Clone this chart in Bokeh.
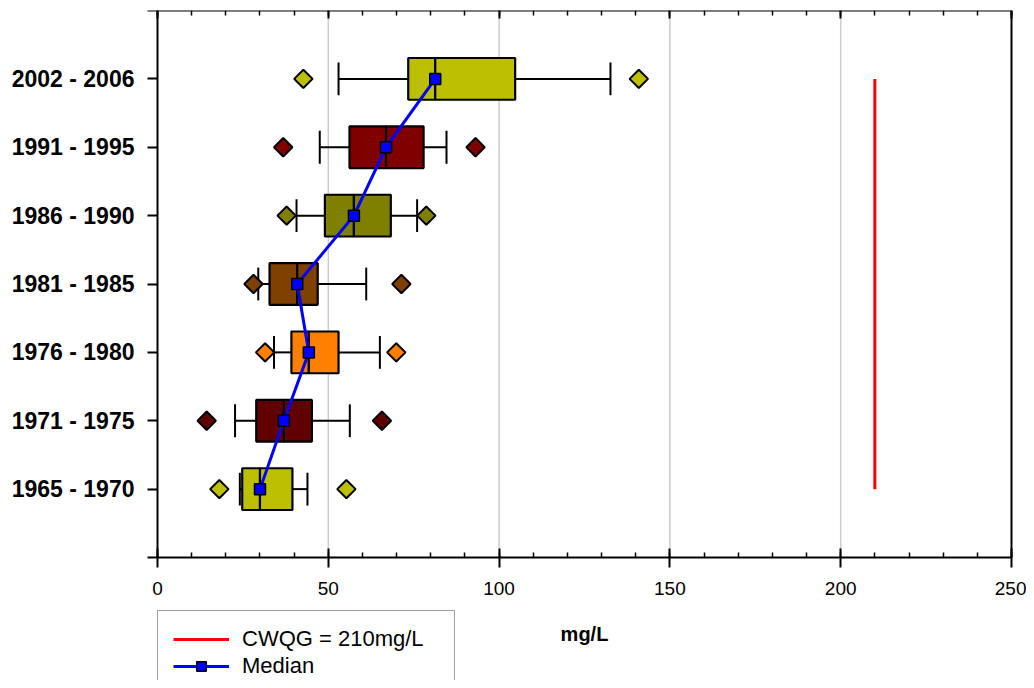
from bokeh.plotting import figure
from bokeh.models import (LinearAxis, FixedTicker, SingleIntervalTicker, Range1d,
                          Legend, LegendItem, ColumnDataSource)
from bokeh.embed import file_html
from bokeh.resources import INLINE
import math

categories = ["1965 - 1970", "1971 - 1975", "1976 - 1980", "1981 - 1985",
              "1986 - 1990", "1991 - 1995", "2002 - 2006"]
outlier_low = [18.1, 14.4, 31.5, 28.1, 37.8, 36.8, 42.7]
whisker_low = [24.1, 22.7, 34.1, 29.5, 40.7, 47.5, 53.0]
q1 = [24.8, 28.9, 39.2, 32.8, 49.0, 56.2, 73.4]
median = [30.0, 37.0, 44.3, 40.9, 57.5, 66.9, 81.3]
q3 = [39.5, 45.2, 53.0, 46.9, 68.3, 77.9, 104.7]
whisker_high = [43.9, 56.3, 65.1, 61.1, 76.0, 84.6, 132.6]
outlier_high = [55.3, 65.7, 69.9, 71.4, 78.7, 93.1, 140.9]
colors = ["#bcc000", "#600000", "#ff8000", "#804000", "#808000", "#800000", "#bcc000"]
cwqg = 210
x_tick_step = 50
x_max = 250

FONT = "Liberation Sans"
n = len(categories)
ypos = list(range(1, n + 1))
y_top = n + 1

# layout (pixels): the drawing area covers the whole canvas; axes are pinned
W, H = 1026, 680
left_px, plot_w_px = 157, 854       # x = 0 and width of the 0..250 box
top_px, plot_h_px = 10, 547         # y = top and height of the 0..8 box
ux = x_max / plot_w_px
uy = y_top / plot_h_px
x_start = -left_px * ux
x_end = x_max + (W - left_px - plot_w_px) * ux
y_start = -(H - top_px - plot_h_px) * uy

cap = 0.24
box_h = 0.61
grid_x = list(range(x_tick_step, x_max, x_tick_step))

src = ColumnDataSource(dict(
    y=ypos, cat=categories, olo=outlier_low, wlo=whisker_low, q1=q1, med=median,
    q3=q3, whi=whisker_high, ohi=outlier_high, color=colors,
    cap_lo=[v - cap for v in ypos], cap_hi=[v + cap for v in ypos],
))

p = figure(width=W, height=H, output_backend="svg", toolbar_location=None,
           x_range=Range1d(x_start, x_end), y_range=Range1d(y_start, y_top),
           min_border_left=0, min_border_right=0, min_border_top=top_px,
           min_border_bottom=0)
p.background_fill_color = "white"
p.border_fill_color = "white"
p.outline_line_color = None
p.xgrid.visible = False
p.ygrid.visible = False

# vertical grid lines, only inside the plotting box
p.segment(x0=grid_x, x1=grid_x, y0=0, y1=y_top, line_color="#cccccc",
          line_width=1.5, level="underlay")

# bottom axis, pinned at y = 0
xa = p.xaxis[0]
xa.fixed_location = 0
xa.bounds = (0, x_max)
xa.ticker = SingleIntervalTicker(interval=x_tick_step, num_minor_ticks=5)
xa.axis_line_width = 2
xa.major_tick_line_width = 2
xa.major_tick_in = 9
xa.major_tick_out = 10
xa.minor_tick_in = 5
xa.minor_tick_out = 0
xa.minor_tick_line_width = 1.5
xa.major_label_text_font = FONT
xa.major_label_text_font_size = "19px"
xa.major_label_text_color = "black"
xa.major_label_standoff = 14
xa.axis_label = "mg/L"
xa.axis_label_text_font = FONT
xa.axis_label_text_font_size = "20px"
xa.axis_label_text_font_style = "bold"
xa.axis_label_text_color = "black"
xa.axis_label_standoff = 25

# left axis, pinned at x = 0
ya = p.yaxis[0]
ya.fixed_location = 0
ya.bounds = (0, y_top)
ya.ticker = FixedTicker(ticks=ypos, minor_ticks=[0, y_top])
ya.major_label_overrides = {y: c for y, c in zip(ypos, categories)}
ya.axis_line_width = 2
ya.major_tick_line_width = 2
ya.major_tick_in = 0
ya.major_tick_out = 10
ya.minor_tick_in = 0
ya.minor_tick_out = 10
ya.minor_tick_line_width = 2
ya.minor_tick_line_color = "black"
ya.major_label_text_font = FONT
ya.major_label_text_font_size = "23px"
ya.major_label_text_font_style = "bold"
ya.major_label_text_color = "black"
ya.major_label_standoff = 13

# top axis (ticks only), pinned at the top of the box
ta = LinearAxis(ticker=SingleIntervalTicker(interval=x_tick_step, num_minor_ticks=5),
                fixed_location=y_top, bounds=(0, x_max), axis_line_width=2,
                major_tick_line_width=2, major_tick_in=8, major_tick_out=0,
                minor_tick_in=5, minor_tick_out=0, minor_tick_line_width=1.5,
                major_label_text_color=None, major_label_text_font_size="1px",
                major_label_standoff=0)
p.add_layout(ta, "above")

# right border line
ra = LinearAxis(ticker=FixedTicker(ticks=[]), fixed_location=x_max, bounds=(0, y_top),
                axis_line_width=2, major_tick_out=0, major_tick_in=0,
                minor_tick_out=0, minor_tick_in=0, major_label_text_color=None)
p.add_layout(ra, "right")

# CWQG line
r_cwqg = p.segment(x0=cwqg, x1=cwqg, y0=min(ypos), y1=max(ypos),
                   line_color="red", line_width=3)

# whiskers
p.segment(x0="wlo", x1="q1", y0="y", y1="y", source=src, line_color="black", line_width=2)
p.segment(x0="q3", x1="whi", y0="y", y1="y", source=src, line_color="black", line_width=2)
p.segment(x0="wlo", x1="wlo", y0="cap_lo", y1="cap_hi", source=src, line_color="black", line_width=2)
p.segment(x0="whi", x1="whi", y0="cap_lo", y1="cap_hi", source=src, line_color="black", line_width=2)

# boxes
p.hbar(y="y", left="q1", right="med", height=box_h, source=src,
       fill_color="color", line_color="black", line_width=2.2)
p.hbar(y="y", left="med", right="q3", height=box_h, source=src,
       fill_color="color", line_color="black", line_width=2.2)

# outliers
p.scatter(x="olo", y="y", source=src, marker="square", angle=math.pi / 4, size=13,
          fill_color="color", line_color="black", line_width=2)
p.scatter(x="ohi", y="y", source=src, marker="square", angle=math.pi / 4, size=13,
          fill_color="color", line_color="black", line_width=2)

# median line
r_medline = p.line(x="med", y="y", source=src, line_color="blue", line_width=3)
r_medpts = p.scatter(x="med", y="y", source=src, marker="square", size=11,
                     fill_color="blue", line_color="black", line_width=1.5)

legend = Legend(items=[
    LegendItem(label=f"CWQG = {cwqg}mg/L", renderers=[r_cwqg]),
    LegendItem(label="Median", renderers=[r_medline, r_medpts]),
], location=(left_px, -15), orientation="vertical", margin=0, padding=15, spacing=1,
    glyph_width=56, glyph_height=24, label_height=24, label_width=197,
    label_standoff=13, label_text_font=FONT, label_text_font_size="22px",
    label_text_color="black", border_line_color="#404040", border_line_width=1.5,
    background_fill_color="white", background_fill_alpha=1.0)
p.add_layout(legend)

open("out.html", "w").write(file_html(p, INLINE))
